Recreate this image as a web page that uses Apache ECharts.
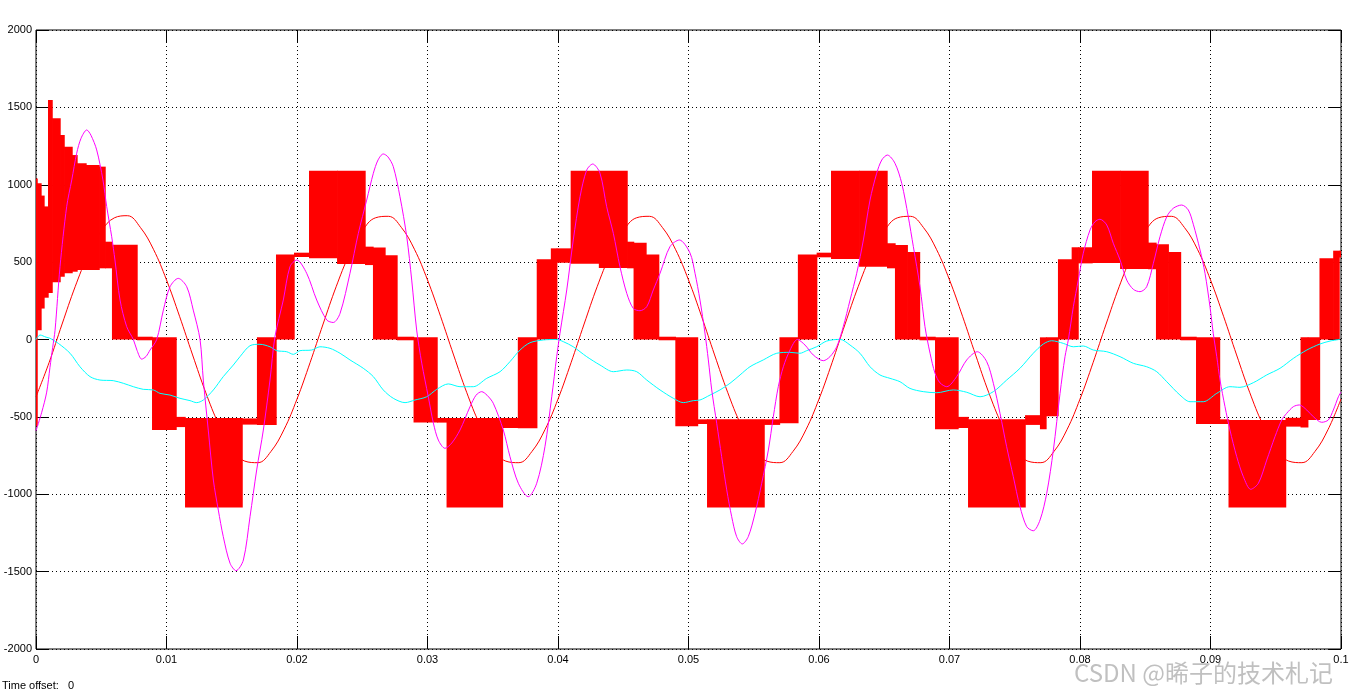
<!DOCTYPE html>
<html><head><meta charset="utf-8">
<script src="https://cdn.jsdelivr.net/npm/echarts/dist/echarts.min.js"></script>
<style>html,body{margin:0;padding:0;background:#fff;}#c{width:1366px;height:698px;}</style>
</head><body><div id="c"></div>
<script>
// ---------- data ----------
var xTicks = [0, 0.01, 0.02, 0.03, 0.04, 0.05, 0.06, 0.07, 0.08, 0.09, 0.1];
var yTicks = [-2000, -1500, -1000, -500, 0, 500, 1000, 1500, 2000];

// PWM output band: [tStart, tEnd, low, high]
var pwmBands = [
[0.00000,0.00008,-560,1040],[0.00008,0.00038,60,1010],[0.00038,0.00061,200,930],[0.00061,0.00092,270,860],
[0.00092,0.00123,300,1548],[0.00123,0.00184,370,1430],[0.00184,0.00215,405,1321],[0.00215,0.00276,428,1246],
[0.00276,0.00314,438,1192],[0.00314,0.00383,449,1139],[0.00383,0.00483,449,1128],[0.00483,0.00529,460,1117],
[0.00529,0.00582,460,632],[0.00582,0.00774,0,612],[0.00774,0.00889,-5,18],[0.00889,0.01073,-585,14],
[0.01073,0.01142,-566,-500],[0.01142,0.01579,-1085,-507],[0.01579,0.01693,-550,-510],[0.01693,0.01839,-552,14],
[0.01839,0.01977,0,550],[0.01977,0.02092,533,561],[0.02092,0.02307,525,1091],[0.02307,0.02521,488,1091],
[0.02521,0.02582,481,600],[0.02582,0.02674,0,595],[0.02674,0.02766,0,545],[0.02766,0.02893,-5,18],
[0.02893,0.03073,-537,14],[0.03073,0.03146,-537,-507],[0.03146,0.03574,-1085,-507],[0.03574,0.03692,-572,-507],
[0.03692,0.03837,-574,14],[0.03837,0.03945,0,518],[0.03945,0.03990,0,589],[0.03990,0.04097,496,589],
[0.04097,0.04313,490,1091],[0.04313,0.04529,462,1091],[0.04529,0.04579,460,632],[0.04579,0.04674,0,625],
[0.04674,0.04771,0,550],[0.04771,0.04899,-5,18],[0.04899,0.05069,-560,14],[0.05069,0.05142,-546,-516],
[0.05142,0.05579,-1085,-516],[0.05579,0.05697,-552,-516],[0.05697,0.05838,-542,14],[0.05838,0.05982,0,550],
[0.05982,0.06092,531,561],[0.06092,0.06307,520,1091],[0.06307,0.06521,470,1091],[0.06521,0.06582,460,622],
[0.06582,0.06676,0,610],[0.06676,0.06770,0,565],[0.06770,0.06889,-5,18],[0.06889,0.07065,-580,14],
[0.07065,0.07142,-572,-500],[0.07142,0.07579,-1085,-516],[0.07579,0.07693,-552,-489],[0.07693,0.07739,-580,14],
[0.07739,0.07831,-496,14],[0.07831,0.07936,0,518],[0.07936,0.07985,0,596],[0.07985,0.08092,492,596],
[0.08092,0.08307,495,1091],[0.08307,0.08521,455,1091],[0.08521,0.08582,454,626],[0.08582,0.08676,0,615],
[0.08676,0.08770,0,565],[0.08770,0.08889,-5,18],[0.08889,0.09069,-546,14],[0.09069,0.09138,-546,-516],
[0.09138,0.09575,-1085,-520],[0.09575,0.09690,-563,-506],[0.09690,0.09745,-568,14],[0.09745,0.09835,-520,14],
[0.09835,0.09940,0,525],[0.09940,0.09985,0,574],[0.09985,0.10000,530,574]
];

// thin red reference, sampled every 1 ms from t = 0 to 0.1 s
var refV = [
-370,-150,100,341,548,701,786,800,724,583,385,150,-100,-341,-548,-701,-786,-796,-724,-583,
-385,-150,100,341,548,701,786,796,724,583,385,150,-100,-341,-548,-701,-786,-796,-724,-583,
-385,-150,100,341,548,701,786,796,724,583,385,150,-100,-341,-548,-701,-786,-796,-724,-583,
-385,-150,100,341,548,701,786,796,724,583,385,150,-100,-341,-548,-701,-786,-796,-724,-583,
-385,-150,100,341,548,701,786,796,724,583,385,150,-100,-341,-548,-701,-786,-796,-724,-583,
-385];

// magenta trace
var magT = [0,0.00044,0.00082,0.00107,0.00128,0.00146,0.00184,0.00235,0.00274,0.00312,0.00345,0.00389,0.00421,0.00465,0.00513,0.00542,0.00580,0.00605,0.00644,0.00695,
0.00746,0.00774,0.00810,0.00843,0.00874,0.00925,0.00976,0.01027,0.01090,0.01155,0.01205,0.01257,0.01282,0.01320,0.01359,0.01397,0.01435,0.01487,0.01533,0.01589,
0.01640,0.01691,0.01742,0.01793,0.01831,0.01895,0.01946,0.01998,0.02074,0.02151,0.02228,0.02278,0.02330,0.02406,0.02470,0.02534,0.02585,0.02621,0.02661,0.02697,
0.02738,0.02789,0.02841,0.02879,0.02917,0.02956,0.03006,0.03045,0.03083,0.03134,0.03186,0.03249,0.03326,0.03372,0.03415,0.03456,0.03504,0.03581,0.03632,0.03696,
0.03772,0.03837,0.03900,0.03952,0.03990,0.04015,0.04067,0.04117,0.04169,0.04220,0.04266,0.04322,0.04373,0.04424,0.04475,0.04527,0.04577,0.04628,0.04680,0.04730,
0.04782,0.04858,0.04930,0.05011,0.05050,0.05088,0.05126,0.05152,0.05178,0.05216,0.05254,0.05293,0.05331,0.05369,0.05412,0.05458,0.05510,0.05561,0.05612,0.05650,
0.05688,0.05727,0.05778,0.05834,0.05893,0.05956,0.06033,0.06084,0.06136,0.06186,0.06238,0.06289,0.06340,0.06391,0.06442,0.06481,0.06524,0.06582,0.06634,0.06684,
0.06723,0.06774,0.06812,0.06851,0.06889,0.06927,0.06979,0.07055,0.07132,0.07213,0.07285,0.07336,0.07387,0.07438,0.07489,0.07540,0.07592,0.07642,0.07694,0.07745,
0.07796,0.07847,0.07885,0.07911,0.07949,0.07987,0.08025,0.08077,0.08115,0.08153,0.08205,0.08255,0.08307,0.08358,0.08409,0.08460,0.08511,0.08562,0.08613,0.08665,
0.08715,0.08779,0.08830,0.08868,0.08920,0.08958,0.08996,0.09021,0.09048,0.09073,0.09111,0.09149,0.09201,0.09252,0.09308,0.09367,0.09431,0.09494,0.09546,0.09584,
0.09635,0.09681,0.09738,0.09788,0.09852,0.09903,0.09941,0.09980,0.10000];
var magV = [-590,-470,-340,-180,-50,60,470,858,1031,1204,1300,1354,1320,1225,1031,858,664,514,255,83,
0,-70,-127,-110,-68,0,190,341,395,341,190,0,-262,-585,-908,-1102,-1274,-1446,-1494,-1425,
-1145,-843,-585,-262,18,255,470,514,428,255,126,110,169,428,686,901,1074,1160,1199,1180,
1117,923,664,384,61,-153,-370,-540,-650,-703,-669,-585,-434,-360,-337,-360,-412,-585,-757,-929,
-1016,-929,-693,-370,-111,40,320,643,923,1095,1134,1074,858,686,470,298,201,186,212,320,
428,600,643,560,428,255,42,-132,-326,-541,-757,-972,-1145,-1274,-1321,-1274,-1123,-929,-714,-499,
-305,-176,-68,0,-36,-100,-137,-111,-47,83,255,428,643,901,1074,1160,1192,1139,1009,794,
600,341,83,-89,-218,-280,-305,-240,-132,-79,-143,-283,-477,-693,-887,-1080,-1210,-1236,-1166,-994,
-714,-348,-111,0,212,384,557,708,761,777,740,622,514,384,324,309,341,492,664,794,
848,869,837,745,578,428,212,40,-111,-262,-434,-585,-757,-887,-968,-929,-779,-628,-520,-477,
-434,-423,-456,-499,-535,-520,-456,-370,-340];

// cyan trace
var cyanT = [0,0.00031,0.00077,0.00107,0.00171,0.00261,0.00337,0.00414,0.00490,0.00592,0.00669,0.00746,0.00822,0.00899,0.00950,0.01027,0.01103,0.01180,0.01231,0.01282,
0.01359,0.01435,0.01512,0.01563,0.01640,0.01716,0.01793,0.01844,0.01921,0.01972,0.02023,0.02113,0.02176,0.02253,0.02330,0.02406,0.02508,0.02585,0.02661,0.02738,
0.02828,0.02904,0.02994,0.03071,0.03159,0.03249,0.03351,0.03454,0.03556,0.03632,0.03709,0.03785,0.03888,0.03990,0.04041,0.04117,0.04220,0.04322,0.04424,0.04527,
0.04603,0.04680,0.04782,0.04884,0.04960,0.05037,0.05088,0.05165,0.05241,0.05318,0.05395,0.05471,0.05573,0.05676,0.05778,0.05854,0.05906,0.05982,0.06059,0.06161,
0.06238,0.06314,0.06391,0.06467,0.06544,0.06621,0.06697,0.06799,0.06902,0.07029,0.07132,0.07234,0.07336,0.07438,0.07540,0.07642,0.07719,0.07783,0.07872,0.07949,
0.08025,0.08102,0.08205,0.08307,0.08409,0.08511,0.08588,0.08665,0.08766,0.08843,0.08945,0.09048,0.09149,0.09226,0.09328,0.09431,0.09533,0.09635,0.09738,0.09839,
0.09916,0.09992];
var cyanV = [0,29,15,8,-25,-89,-176,-240,-262,-266,-283,-305,-322,-326,-348,-359,-380,-395,-408,-391,
-326,-240,-165,-111,-40,-31,-47,-72,-79,-96,-72,-68,-47,-57,-89,-132,-186,-240,-326,-380,
-408,-391,-370,-322,-287,-305,-305,-251,-208,-143,-68,-21,-3,0,-14,-47,-111,-165,-208,-197,
-208,-262,-326,-380,-408,-395,-391,-359,-326,-283,-229,-176,-132,-89,-83,-89,-72,-47,-10,1,
-36,-89,-176,-229,-251,-273,-316,-337,-344,-326,-341,-370,-337,-262,-186,-89,-29,-8,-25,-47,
-42,-68,-79,-111,-154,-176,-208,-273,-359,-402,-402,-348,-305,-309,-279,-229,-186,-122,-68,-29,
-10,1];

// ---------- build ----------
function zip(a, b) { return a.map(function (v, i) { return [v, b[i]]; }); }
var refData = refV.map(function (v, i) { return [i / 1000, v]; });

var chart = echarts.init(document.getElementById('c'), null, { renderer: 'canvas' });
var FONT = 'Liberation Sans, Arial, sans-serif';

function axisBase(extra) {
  var o = {
    type: 'value',
    axisLine: { show: false, onZero: false },
    axisTick: { show: true, inside: true, length: 13, lineStyle: { color: '#000', width: 1 } }
  };
  for (var k in extra) o[k] = extra[k];
  return o;
}

var option = {
  animation: false,
  backgroundColor: '#fff',
  grid: { left: 36, right: 25, top: 30, bottom: 49, show: true, borderColor: '#000', borderWidth: 1, backgroundColor: '#fff' },
  xAxis: [
    axisBase({ position: 'bottom', min: xTicks[0], max: xTicks[xTicks.length - 1], interval: 0.01,
      axisLabel: { color: '#000', fontFamily: FONT, fontSize: 11, margin: 5,
        formatter: function (v) { return String(+v.toFixed(2)); } },
      splitLine: { show: true, lineStyle: { color: '#000', type: [1, 3], width: 1 } } }),
    axisBase({ position: 'top', min: xTicks[0], max: xTicks[xTicks.length - 1], interval: 0.01,
      axisLabel: { show: false }, splitLine: { show: false } })
  ],
  yAxis: [
    axisBase({ position: 'left', min: yTicks[0], max: yTicks[yTicks.length - 1], interval: 500,
      axisLabel: { color: '#000', fontFamily: FONT, fontSize: 11, margin: 4,
        formatter: function (v) { return String(Math.round(v)); } },
      splitLine: { show: true, lineStyle: { color: '#000', type: [1, 3], width: 1 } } }),
    axisBase({ position: 'right', min: yTicks[0], max: yTicks[yTicks.length - 1], interval: 500,
      axisLabel: { show: false }, splitLine: { show: false } })
  ],
  series: [
    { type: 'custom', name: 'pwm', xAxisIndex: 0, yAxisIndex: 0, z: 2,
      encode: { x: [0, 1], y: [2, 3] },
      data: pwmBands,
      clip: true,
      renderItem: function (params, api) {
        var p0 = api.coord([api.value(0), api.value(3)]);
        var p1 = api.coord([api.value(1), api.value(2)]);
        return { type: 'rect',
          shape: { x: p0[0], y: p0[1], width: Math.max(1, p1[0] - p0[0] + 0.7), height: Math.max(1.5, p1[1] - p0[1]) },
          style: { fill: '#ff0000' } };
      } },
    { type: 'line', name: 'ref', data: refData, smooth: 0.4, showSymbol: false, z: 3,
      lineStyle: { color: '#ff0000', width: 1 } },
    { type: 'line', name: 'cyan', data: zip(cyanT, cyanV), smooth: 0.3, showSymbol: false, z: 4,
      lineStyle: { color: '#00ffff', width: 1 } },
    { type: 'line', name: 'magenta', data: zip(magT, magV), smooth: 0.3, showSymbol: false, z: 5,
      lineStyle: { color: '#ff00ff', width: 1 } }
  ],
  graphic: [
    { type: 'text', left: 2, top: 680, z: 10,
      style: { text: 'Time offset:   0', font: '11px ' + FONT, fill: '#000' } },
    { type: 'text', left: 1074, top: 661, z: 10,
      style: { text: 'CSDN @晞子的技术札记', font: '24px "Noto Sans CJK SC", "Liberation Sans", sans-serif',
        fill: 'rgba(150,150,150,0.6)' } }
  ]
};
chart.setOption(option);
</script></body></html>
